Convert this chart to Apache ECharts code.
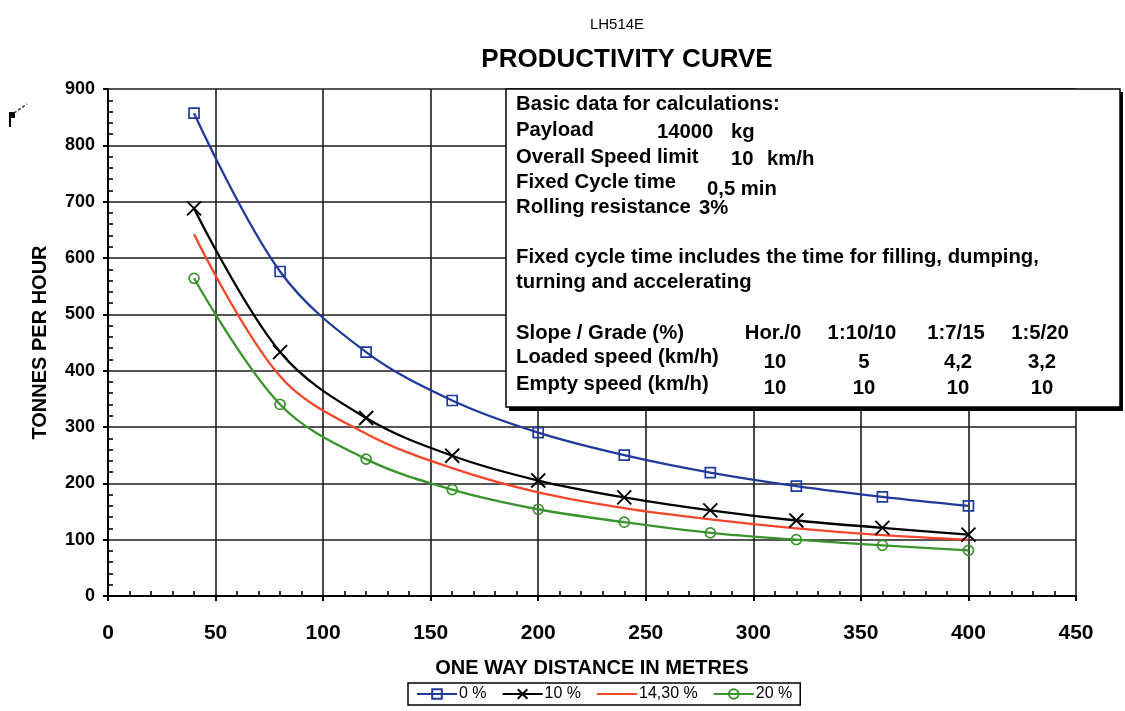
<!DOCTYPE html>
<html>
<head>
<meta charset="utf-8">
<title>LH514E Productivity Curve</title>
<script src="https://cdn.jsdelivr.net/npm/echarts@6/dist/echarts.min.js"></script>
<style>
  html, body { margin: 0; padding: 0; background: #fff; }
  #chart { width: 1125px; height: 711px; }
</style>
</head>
<body>
<div id="chart"></div>
<script>
// One-way haul distance (m) at which productivity is given
const distances = [40, 80, 120, 160, 200, 240, 280, 320, 360, 400];

// Tonnes per hour for each grade
const grade0  = [857, 576, 433, 347, 290, 250, 219, 195, 176, 160];
const grade10 = [688, 433, 316, 249, 205, 175, 152, 134, 121, 109];
const grade14 = [642, 390, 288, 227, 184, 156, 136, 120, 108, 100];
const grade20 = [564, 340, 243, 189, 154, 131, 112, 100, 90, 81];

const seriesNames = ['0 %', '10 %', '14,30 %', '20 %'];

// Calculation basics shown in the info box
const basicRows = [
  ['Payload', '14000', 'kg'],
  ['Overall Speed limit', '10', 'km/h'],
  ['Fixed Cycle time', '0,5 min', ''],
  ['Rolling resistance', '3%', '']
];
const noteLines = [
  'Fixed cycle time includes the time for filling, dumping,',
  'turning and accelerating'
];
const gradeHeader = ['Hor./0', '1:10/10', '1:7/15', '1:5/20'];
const loadedSpeed = ['10', '5', '4,2', '3,2'];
const emptySpeed  = ['10', '10', '10', '10'];

const FONT = '"Liberation Sans", Arial, sans-serif';
const TOP_Z = 100;

function pairs(ys) {
  return distances.map((d, i) => [d, ys[i]]);
}

function boxText(x, y, text, align) {
  return {
    type: 'text',
    z: TOP_Z + 2,
    x: x, y: y,
    style: {
      text: text,
      font: 'bold 20.3px ' + FONT,
      fill: '#000',
      align: align || 'left',
      verticalAlign: 'middle'
    }
  };
}

// Info box: offset black shadow, then the white framed panel
const boxChildren = [
  {
    type: 'rect', z: TOP_Z,
    shape: { x: 509, y: 92, width: 614, height: 319 },
    style: { fill: '#000' }
  },
  {
    type: 'rect', z: TOP_Z + 1,
    shape: { x: 506, y: 89, width: 614, height: 318 },
    style: { fill: '#fff', stroke: '#000', lineWidth: 1.5 }
  }
];
boxChildren.push(boxText(516, 104, 'Basic data for calculations:'));
const basicY = [130, 157, 182, 207];
const basicValX = [657, 731, 707, 699];
const basicUnitX = [731, 767, 0, 0];
const basicValDy = [2, 2, 7, 1];
basicRows.forEach((row, i) => {
  boxChildren.push(boxText(516, basicY[i], row[0]));
  boxChildren.push(boxText(basicValX[i], basicY[i] + basicValDy[i], row[1]));
  if (row[2]) boxChildren.push(boxText(basicUnitX[i], basicY[i] + basicValDy[i], row[2]));
});
noteLines.forEach((t, i) => boxChildren.push(boxText(516, 257 + i * 25, t)));
const colX = [773, 862, 956, 1040];
boxChildren.push(boxText(516, 333, 'Slope / Grade (%)'));
boxChildren.push(boxText(516, 357, 'Loaded speed (km/h)'));
boxChildren.push(boxText(516, 384, 'Empty speed (km/h)'));
gradeHeader.forEach((t, i) => boxChildren.push(boxText(colX[i], 333, t, 'center')));
loadedSpeed.forEach((t, i) => boxChildren.push(boxText(colX[i] + 2, 362, t, 'center')));
emptySpeed.forEach((t, i) => boxChildren.push(boxText(colX[i] + 2, 388, t, 'center')));

const lineColors = ['#1f3a9a', '#000000', '#f5452b', '#3a932c'];
const hollow = 'rgba(0,0,0,0)';

const chart = echarts.init(document.getElementById('chart'), null, { renderer: 'canvas' });

const baseX = {
  type: 'value', min: 0, max: 450, interval: 50,
  position: 'bottom'
};
const baseY = {
  type: 'value', min: 0, max: 900, interval: 100,
  position: 'left'
};

chart.setOption({
  animation: false,
  backgroundColor: '#fff',
  textStyle: { fontFamily: FONT },
  title: [
    {
      text: 'LH514E', left: 612, top: 12, textAlign: 'center',
      textStyle: { fontSize: 15, fontWeight: 'normal', color: '#000', fontFamily: FONT }
    },
    {
      text: 'PRODUCTIVITY CURVE', left: 622, top: 42, textAlign: 'center',
      textStyle: { fontSize: 26, fontWeight: 'bold', color: '#000', fontFamily: FONT }
    }
  ],
  legend: {
    left: 408, top: 683,
    padding: [3, 8, 3, 8],
    itemGap: 15, itemWidth: 40, itemHeight: 12,
    borderColor: '#000', borderWidth: 1.5,
    textStyle: { fontSize: 16, color: '#000', fontFamily: FONT, padding: [0, 0, 0, -3] },
    data: seriesNames
  },
  grid: { left: 108, right: 49, top: 89, bottom: 115, containLabel: false },
  xAxis: [
    Object.assign({}, baseX, {
      name: 'ONE WAY DISTANCE IN METRES',
      nameLocation: 'middle', nameGap: 62,
      nameTextStyle: { fontSize: 20, fontWeight: 'bold', color: '#000', fontFamily: FONT },
      axisLine: { lineStyle: { color: '#000', width: 2 } },
      axisTick: { length: 5, lineStyle: { color: '#000', width: 2 } },
      axisLabel: { fontSize: 21, fontWeight: 'bold', color: '#000', margin: 27, fontFamily: FONT },
      splitLine: { show: true, lineStyle: { color: '#1c1c1c', width: 1.6 } }
    }),
    Object.assign({}, baseX, {
      axisLine: { show: false },
      axisLabel: { show: false },
      axisTick: { show: false, inside: true },
      minorTick: { show: true, splitNumber: 5, length: 5, lineStyle: { color: '#000', width: 1.6 } },
      splitLine: { show: false }
    })
  ],
  yAxis: [
    Object.assign({}, baseY, {
      name: 'TONNES PER HOUR',
      nameLocation: 'middle', nameGap: 58,
      nameTextStyle: { fontSize: 20, fontWeight: 'bold', color: '#000', fontFamily: FONT },
      axisLine: { show: true, lineStyle: { color: '#000', width: 2 } },
      axisTick: { show: true, length: 5, lineStyle: { color: '#000', width: 2 } },
      axisLabel: { fontSize: 18, fontWeight: 'bold', color: '#000', margin: 13, fontFamily: FONT },
      splitLine: { show: true, lineStyle: { color: '#1c1c1c', width: 1.6 } }
    }),
    Object.assign({}, baseY, {
      axisLine: { show: false },
      axisLabel: { show: false },
      axisTick: { show: false, inside: true },
      minorTick: { show: true, splitNumber: 5, length: 5, lineStyle: { color: '#000', width: 1.6 } },
      splitLine: { show: false }
    })
  ],
  series: [
    {
      name: seriesNames[0], type: 'line', smooth: 0.35,
      data: pairs(grade0),
      symbol: 'rect', symbolSize: 10,
      lineStyle: { color: lineColors[0], width: 2.3 },
      itemStyle: { color: hollow, borderColor: lineColors[0], borderWidth: 1.7 },
      z: 4
    },
    {
      name: seriesNames[1], type: 'line', smooth: 0.35,
      data: pairs(grade10),
      symbol: 'path://M0,0L10,10M10,0L0,10', symbolSize: 14,
      lineStyle: { color: lineColors[1], width: 2.3 },
      itemStyle: { color: hollow, borderColor: lineColors[1], borderWidth: 1.9 },
      z: 3
    },
    {
      // plain curve: symbols kept invisible so the legend shows only the line
      name: seriesNames[2], type: 'line', smooth: 0.35,
      data: pairs(grade14),
      showSymbol: false, symbol: 'circle', symbolSize: 1,
      lineStyle: { color: lineColors[2], width: 2.3 },
      itemStyle: { color: hollow, borderColor: hollow, borderWidth: 0 },
      z: 2
    },
    {
      name: seriesNames[3], type: 'line', smooth: 0.35,
      data: pairs(grade20),
      symbol: 'circle', symbolSize: 10,
      lineStyle: { color: lineColors[3], width: 2.3 },
      itemStyle: { color: hollow, borderColor: lineColors[3], borderWidth: 1.7 },
      z: 3
    }
  ],
  graphic: [
    { type: 'group', children: boxChildren },
    {
      // small pointer mark at the upper left margin
      type: 'group',
      children: [
        { type: 'rect', z: TOP_Z, shape: { x: 9, y: 112, width: 6, height: 6 }, style: { fill: '#000' } },
        { type: 'line', z: TOP_Z, shape: { x1: 10, y1: 117, x2: 10, y2: 127 }, style: { stroke: '#000', lineWidth: 2 } },
        { type: 'line', z: TOP_Z, shape: { x1: 14, y1: 113, x2: 27, y2: 104 }, style: { stroke: '#333', lineWidth: 1.5, lineDash: [3, 2] } }
      ]
    }
  ]
});
</script>
</body>
</html>
